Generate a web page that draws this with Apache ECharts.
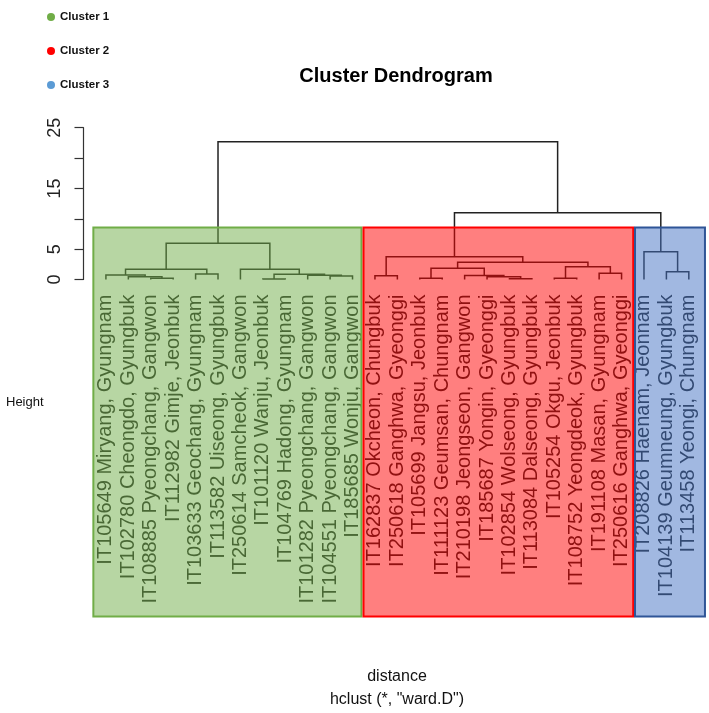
<!DOCTYPE html>
<html><head><meta charset="utf-8">
<script src="https://cdn.jsdelivr.net/npm/echarts@6/dist/echarts.min.js"></script>
<style>html,body{margin:0;padding:0;background:#fff}#c{width:709px;height:713px}</style>
</head><body><div id="c"></div>
<script>
// ---- data ----
const leafLabels = [
  'IT105649 Miryang, Gyungnam','IT102780 Cheongdo, Gyungbuk','IT108885 Pyeongchang, Gangwon',
  'IT112982 Gimje, Jeonbuk','IT103633 Geochang, Gyungnam','IT113582 Uiseong, Gyungbuk',
  'IT250614 Samcheok, Gangwon','IT101120 Wanju, Jeonbuk','IT104769 Hadong, Gyungnam',
  'IT101282 Pyeongchang, Gangwon','IT104551 Pyeongchang, Gangwon','IT185685 Wonju, Gangwon',
  'IT162837 Okcheon, Chungbuk','IT250618 Ganghwa, Gyeonggi','IT105699 Jangsu, Jeonbuk',
  'IT111123 Geumsan, Chungnam','IT210198 Jeongseon, Gangwon','IT185687 Yongin, Gyeonggi',
  'IT102854 Wolseong, Gyungbuk','IT113084 Dalseong, Gyungbuk','IT105254 Okgu, Jeonbuk',
  'IT108752 Yeongdeok, Gyungbuk','IT191108 Masan, Gyungnam','IT250616 Ganghwa, Gyeonggi',
  'IT208826 Haenam, Jeonnam','IT104139 Geumneung, Gyungbuk','IT113458 Yeongi, Chungnam'
];
// merge steps: negative = leaf number (1-based, display order), positive = earlier merge step (1-based)
const mergeLeft  = [-3,-2,-1,-5, 3,-8,-11,-10, 6,-7, 5,-13,-15,-19,-18,-17,13,-21,-23,18,17,12,-26,-25,22,11];
const mergeRight = [-4, 1, 2,-6, 4,-9,-12,  7, 8, 9,10,-14,-16,-20, 14, 15,16,-22,-24,19,20,21,-27, 23,24,25];
const mergeHeight= [0.2,0.46,0.74,0.91,1.68,0.08,0.58,0.69,0.86,1.7,5.96,
                    0.63,0.2,0.13,0.46,0.66,1.84,0.2,1.02,2.11,2.83,3.75,
                    1.28,4.58,11.0,22.69];
const clusterNames = ['Cluster 1','Cluster 2','Cluster 3'];
const clusterFrom  = [0.44, 12.49, 24.6];   // leaf-axis extent of each cluster rectangle
const clusterTo    = [12.4, 24.52, 27.72];
const clusterTop   = [8.56, 8.56, 8.56];    // height of rectangle top
const clusterBottom= [-55.5, -55.5, -55.5];
const yTickValues  = [0, 5, 10, 15, 20, 25];
const yTickShown   = ['0', '5', '', '15', '', '25'];

// ---- styles ----
const FONT = 'Liberation Sans';
const legendColors = ['#70ad47', '#ff0000', '#5b9bd5'];
const boxFill   = ['rgba(112,173,71,0.5)', 'rgba(255,0,0,0.5)', 'rgba(68,114,196,0.5)'];
const boxStroke = ['#70ad47', '#ff0000', '#2f5597'];

// node positions (leaf units) from the merge table
const mergeX = [];
function nodeX(r){ return r < 0 ? -r : mergeX[r-1]; }
function nodeH(r){ return r < 0 ? 0 : mergeHeight[r-1]; }
for (let i = 0; i < mergeHeight.length; i++) {
  mergeX.push((nodeX(mergeLeft[i]) + nodeX(mergeRight[i])) / 2);
}

const chart = echarts.init(document.getElementById('c'), null, {renderer: 'canvas'});

const series = [{
  type: 'custom',
  name: 'dendrogram',
  clip: false,
  z: 3,
  data: mergeHeight.map((h, i) => [mergeX[i], h]),
  encode: {x: 0, y: 1},
  renderItem: function (params, api) {
    const i = params.dataIndex;
    const l = mergeLeft[i], r = mergeRight[i], h = mergeHeight[i];
    const pts = [[nodeX(l), nodeH(l)], [nodeX(l), h], [nodeX(r), h], [nodeX(r), nodeH(r)]]
      .map(p => api.coord(p));
    return {type: 'polyline', shape: {points: pts},
      style: {stroke: '#222', lineWidth: 1.5, fill: null}};
  }
}];

clusterNames.forEach((name, k) => {
  series.push({
    type: 'custom',
    name: name,
    clip: false,
    z: 10,
    itemStyle: {color: legendColors[k]},
    data: [[clusterFrom[k], clusterTo[k], clusterTop[k], clusterBottom[k]]],
    encode: {x: [0, 1], y: [2, 3]},
    renderItem: function (params, api) {
      const p1 = api.coord([api.value(0), api.value(2)]);
      const p2 = api.coord([api.value(1), api.value(3)]);
      return {type: 'rect',
        shape: {x: p1[0], y: p1[1], width: p2[0] - p1[0], height: p2[1] - p1[1]},
        style: {fill: boxFill[k], stroke: boxStroke[k], lineWidth: 2}};
    }
  });
});

chart.setOption({
  animation: false,
  backgroundColor: '#fff',
  textStyle: {fontFamily: FONT},
  legend: {
    data: clusterNames,
    orient: 'vertical',
    left: 42, top: 6,
    icon: 'circle',
    itemWidth: 8, itemHeight: 8, itemGap: 22,
    textStyle: {fontFamily: FONT, fontWeight: 'bold', fontSize: 11.5, color: '#111'},
    selectedMode: false
  },
  grid: {left: 81.7, top: 127.7, width: 627.3, height: 151.8, containLabel: false},
  xAxis: {
    type: 'value', min: -0.08, max: 27.9,
    axisLine: {show: false}, axisTick: {show: false}, splitLine: {show: false},
    axisLabel: {
      customValues: leafLabels.map((_, i) => i + 1),
      formatter: v => leafLabels[Math.round(v) - 1] || '',
      rotate: 90, margin: 15, fontSize: 20, color: '#222', fontFamily: FONT
    }
  },
  yAxis: {
    type: 'value', min: 0, max: 25, interval: 5,
    axisLine: {show: true, lineStyle: {color: '#333', width: 1.2}},
    axisTick: {show: true, length: 9, lineStyle: {color: '#333', width: 1.2}},
    splitLine: {show: false},
    axisLabel: {
      rotate: 90, margin: 18, fontSize: 18, color: '#222', fontFamily: FONT,
      formatter: v => yTickShown[yTickValues.indexOf(v)] || ''
    }
  },
  graphic: [
    {type: 'text', x: 396, y: 76, style: {text: 'Cluster Dendrogram', fontFamily: FONT,
      fontWeight: 'bold', fontSize: 20, fill: '#000', textAlign: 'center', textVerticalAlign: 'middle'}},
    {type: 'text', x: 6, y: 402, style: {text: 'Height', fontFamily: FONT,
      fontSize: 13, fill: '#111', textAlign: 'left', textVerticalAlign: 'middle'}},
    {type: 'text', x: 397, y: 677, style: {text: 'distance', fontFamily: FONT,
      fontSize: 16, fill: '#111', textAlign: 'center', textVerticalAlign: 'middle'}},
    {type: 'text', x: 397, y: 700, style: {text: 'hclust (*, "ward.D")', fontFamily: FONT,
      fontSize: 16, fill: '#111', textAlign: 'center', textVerticalAlign: 'middle'}}
  ],
  series: series
});
</script></body></html>
